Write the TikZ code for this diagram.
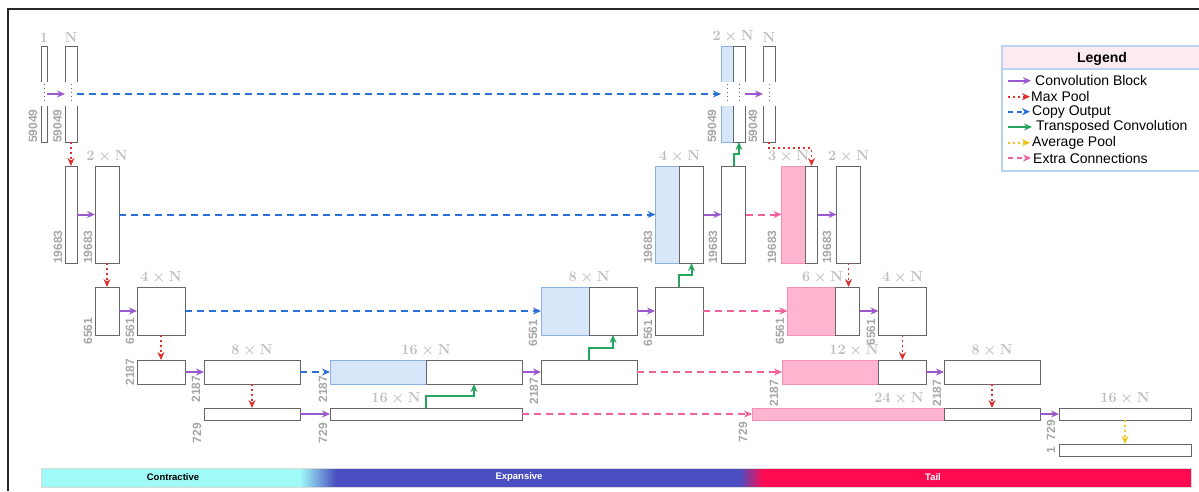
\documentclass[tikz,border=0pt]{standalone}
\usepackage{amsmath}
\usepackage{fontspec}
\newfontfamily\arial{Liberation Sans}
\usetikzlibrary{arrows.meta,positioning}

\definecolor{convc}{HTML}{9B59D0}
\definecolor{poolc}{HTML}{E0302E}
\definecolor{copyc}{HTML}{2B6FD8}
\definecolor{upc}{HTML}{25A55F}
\definecolor{avgc}{HTML}{F2C21B}
\definecolor{extrac}{HTML}{F0609A}
\definecolor{cpfill}{HTML}{D7E6F8}
\definecolor{cpline}{HTML}{8DB0E3}
\definecolor{exfill}{HTML}{FFB5D0}
\definecolor{exline}{HTML}{F590B5}
\definecolor{labgray}{HTML}{BDBDBD}
\definecolor{dimgray}{HTML}{A6A6A6}
\definecolor{contrc}{HTML}{A0FAF8}
\definecolor{expc}{HTML}{4A4EC0}
\definecolor{tailc}{HTML}{FF0A50}
\definecolor{legline}{HTML}{B8D4F4}
\definecolor{leghead}{HTML}{FDE9F0}

\newcommand{\xN}[1]{$#1\times\mathbf{N}$}

\tikzset{
  blk/.style={draw=black!60, line width=1pt, fill=white, inner sep=0pt, outer sep=0pt},
  cpblk/.style={blk, draw=cpline, fill=cpfill},
  exblk/.style={blk, draw=exline, fill=exfill},
  wlab/.style={text=labgray, inner sep=1pt, font=\fontsize{14}{16}\selectfont\boldmath},
  dlab/.style={text=dimgray, inner sep=0pt, rotate=90, font=\arial\bfseries\fontsize{12}{13}\selectfont},
  tip/.style={-{Stealth[length=8pt,width=7pt]}},
  conv/.style={tip, convc, line width=2pt},
  pool/.style={tip, poolc, line width=1.6pt, dash pattern=on 2pt off 3pt},
  copyout/.style={tip, copyc, line width=2pt, dash pattern=on 7pt off 5pt},
  upconv/.style={tip, upc, line width=2pt},
  avgpool/.style={tip, avgc, line width=1.6pt, dash pattern=on 2pt off 3pt},
  extra/.style={tip, extrac, line width=2pt, dash pattern=on 7pt off 5pt},
  gapdot/.style={black!60, line width=0.8pt, dash pattern=on 1pt off 3pt},
  legtxt/.style={anchor=west, inner sep=0pt, font=\arial\fontsize{14}{16}\selectfont},
  bartxt/.style={inner sep=0pt, font=\arial\bfseries\fontsize{9.5}{10}\selectfont}
}

\begin{document}
\begin{tikzpicture}[x=1pt, y=-1pt]
  \useasboundingbox (0,0) rectangle (1199,491);
  % frame
  \draw[line width=1.5pt, black!85] (8,491) -- (8,9) -- (1199,9);

  % row 1
  \node[blk, minimum width=6, minimum height=96] (in1) at (44,94) {};
  \node[blk, minimum width=12, minimum height=96] (n1) at (71,94) {};
  \node[cpblk, minimum width=12, minimum height=96] (c1a) at (727,94) {};
  \node[blk, minimum width=12, minimum height=96] (c1b) at (739,94) {};
  \node[blk, minimum width=12, minimum height=96] (d1) at (769,94) {};
  \foreach \b in {in1,n1,c1a,c1b,d1} {
    \fill[white] ([xshift=-1pt,yshift=-36pt]\b.north west) rectangle ([xshift=1pt,yshift=36pt]\b.south east);
    \draw[gapdot] ([yshift=-38pt]\b.north) -- ([yshift=38pt]\b.south);
  }

  % row 2
  \node[blk, minimum width=12, minimum height=97] (a2) at (71,214.5) {};
  \node[blk, minimum width=24, minimum height=97] (b2) at (107,214.5) {};
  \node[cpblk, minimum width=24, minimum height=97] (c2a) at (667.5,214.5) {};
  \node[blk, minimum width=24, minimum height=97] (c2b) at (691.5,214.5) {};
  \node[blk, minimum width=24, minimum height=97] (d2) at (733.5,214.5) {};
  \node[exblk, minimum width=24, minimum height=97] (e2a) at (793.5,214.5) {};
  \node[blk, minimum width=12, minimum height=97] (e2b) at (811.5,214.5) {};
  \node[blk, minimum width=24, minimum height=97] (f2) at (848.5,214.5) {};

  % row 3
  \node[blk, minimum width=24, minimum height=48] (a3) at (107,311) {};
  \node[blk, minimum width=48, minimum height=48] (b3) at (161,311) {};
  \node[cpblk, minimum width=48, minimum height=48] (c3a) at (565,311) {};
  \node[blk, minimum width=48, minimum height=48] (c3b) at (613,311) {};
  \node[blk, minimum width=48, minimum height=48] (d3) at (679,311) {};
  \node[exblk, minimum width=48, minimum height=48] (e3a) at (811.5,311) {};
  \node[blk, minimum width=24, minimum height=48] (e3b) at (847.5,311) {};
  \node[blk, minimum width=48, minimum height=48] (f3) at (902.5,311) {};

  % row 4
  \node[blk, minimum width=48, minimum height=24] (a4) at (161,372) {};
  \node[blk, minimum width=96, minimum height=24] (b4) at (252,372) {};
  \node[cpblk, minimum width=96, minimum height=24] (c4a) at (378,372) {};
  \node[blk, minimum width=96, minimum height=24] (c4b) at (474,372) {};
  \node[blk, minimum width=96, minimum height=24] (d4) at (589,372) {};
  \node[exblk, minimum width=96, minimum height=24] (e4a) at (830,372) {};
  \node[blk, minimum width=48, minimum height=24] (e4b) at (902,372) {};
  \node[blk, minimum width=96, minimum height=24] (f4) at (992,372) {};

  % row 5
  \node[blk, minimum width=96, minimum height=12] (a5) at (252,414) {};
  \node[blk, minimum width=192, minimum height=12] (b5) at (426,414) {};
  \node[exblk, minimum width=192, minimum height=12] (e5a) at (848,414) {};
  \node[blk, minimum width=96, minimum height=12] (e5b) at (992,414) {};
  \node[blk, minimum width=132, minimum height=12] (f5) at (1125,414) {};
  \node[blk, minimum width=132, minimum height=12] (g5) at (1125,450) {};

  % connectors
  \draw[conv] (in1.east) -- (n1.west);
  \draw[copyout] (n1.east) -- (c1a.west);
  \draw[conv] (c1b.east) -- (d1.west);
  \draw[pool] (n1.south) -- (a2.north);
  \draw[conv] (a2.east) -- (b2.west);
  \draw[copyout] (b2.east) -- (c2a.west);
  \draw[pool] (b2.south) -- (a3.north);
  \draw[conv] (a3.east) -- (b3.west);
  \draw[copyout] (b3.east) -- (c3a.west);
  \draw[pool] (b3.south) -- (a4.north);
  \draw[conv] (a4.east) -- (b4.west);
  \draw[copyout] (b4.east) -- (c4a.west);
  \draw[pool] (b4.south) -- (a5.north);
  \draw[conv] (a5.east) -- (b5.west);
  \draw[upconv] (b5.north) -- ++(0,-12.5) -| (c4b.south);
  \draw[conv] (c4b.east) -- (d4.west);
  \draw[upconv] (d4.north) -- ++(0,-12) -| (c3b.south);
  \draw[conv] (c3b.east) -- (d3.west);
  \draw[upconv] (d3.north) -- ++(0,-12) -| (c2b.south);
  \draw[conv] (c2b.east) -- (d2.west);
  \draw[upconv] (d2.north) -- ++(0,-12) -| (c1b.south);
  \draw[extra] (d2.east) -- (e2a.west);
  \draw[extra] (d3.east) -- (e3a.west);
  \draw[extra] (d4.east) -- (e4a.west);
  \draw[extra] (b5.east) -- (e5a.west);
  \draw[pool] (d1.south) -- ++(0,6) -| (e2b.north);
  \draw[conv] (e2b.east) -- (f2.west);
  \draw[pool] (f2.south) -- (f2.south |- e3b.north);
  \draw[conv] (e3b.east) -- (f3.west);
  \draw[pool] (f3.south) -- (f3.south |- e4b.north);
  \draw[conv] (e4b.east) -- (f4.west);
  \draw[pool] (f4.south) -- (f4.south |- e5b.north);
  \draw[conv] (e5b.east) -- (f5.west);
  \draw[avgpool] (f5.south) -- (g5.north);

  % channel labels
  \node[wlab, above=2pt of in1] (w-in1) {$1$};
  \node[wlab, above=2pt of n1] (w-n1) {$\mathbf{N}$};
  \node[wlab, above=2pt of c1a.north east] (w-c1) {\xN{2}};
  \node[wlab, above=2pt of d1] (w-d1) {$\mathbf{N}$};
  \node[wlab, above=2pt of b2] (w-b2) {\xN{2}};
  \node[wlab, above=2pt of c2a.north east] (w-c2) {\xN{4}};
  \node[wlab, above=2pt of e2a.north, xshift=-5pt] (w-e2) {\xN{3}};
  \node[wlab, above=2pt of f2] (w-f2) {\xN{2}};
  \node[wlab, above=2pt of b3] (w-b3) {\xN{4}};
  \node[wlab, above=2pt of c3a.north east] (w-c3) {\xN{8}};
  \node[wlab, above=2pt of e3a.north, xshift=11pt] (w-e3) {\xN{6}};
  \node[wlab, above=2pt of f3] (w-f3) {\xN{4}};
  \node[wlab, above=2pt of b4] (w-b4) {\xN{8}};
  \node[wlab, above=2pt of c4a.north east] (w-c4) {\xN{16}};
  \node[wlab, above=2pt of e4a.north east, xshift=-24pt] (w-e4) {\xN{12}};
  \node[wlab, above=2pt of f4] (w-f4) {\xN{8}};
  \node[wlab, above=2pt of b5, xshift=-30pt] (w-b5) {\xN{16}};
  \node[wlab, above=2pt of e5a.north east, xshift=-45pt] (w-e5) {\xN{24}};
  \node[wlab, above=2pt of f5] (w-f5) {\xN{16}};

  % size labels
  \node[dlab] (d-in1) at (33,126) {59049};
  \node[dlab] (d-n1) at (57.5,126) {59049};
  \node[dlab] (d-c1) at (712,126) {59049};
  \node[dlab] (d-d1) at (753,126) {59049};
  \node[dlab] (d-a2) at (58,247) {19683};
  \node[dlab] (d-b2) at (88,247) {19683};
  \node[dlab] (d-c2) at (648,247) {19683};
  \node[dlab] (d-d2) at (713,247) {19683};
  \node[dlab] (d-e2) at (772,247) {19683};
  \node[dlab] (d-f2) at (827,247) {19683};
  \node[dlab] (d-a3) at (88,331) {6561};
  \node[dlab] (d-b3) at (130,331) {6561};
  \node[dlab] (d-c3) at (533,333) {6561};
  \node[dlab] (d-d3) at (648,333) {6561};
  \node[dlab] (d-e3) at (780,331) {6561};
  \node[dlab] (d-f3) at (871,332) {6561};
  \node[dlab] (d-a4) at (130,372) {2187};
  \node[dlab] (d-b4) at (196,389) {2187};
  \node[dlab] (d-c4) at (323,389) {2187};
  \node[dlab] (d-d4) at (534,391) {2187};
  \node[dlab] (d-e4) at (774,393) {2187};
  \node[dlab] (d-f4) at (937,393) {2187};
  \node[dlab] (d-a5) at (197,433) {729};
  \node[dlab] (d-b5) at (323,433) {729};
  \node[dlab] (d-e5) at (743,432) {729};
  \node[dlab] (d-f5) at (1051,430) {729};
  \node[dlab] (d-g5) at (1051,450) {1};

  % legend
  \draw[legline, line width=1.5pt, fill=white] (1002,46) rectangle (1215,171);
  \draw[legline, line width=1.5pt, fill=leghead] (1002,46) rectangle (1215,69);
  \node[font=\arial\bfseries\fontsize{14}{16}\selectfont] (leghd) at (1102,59) {Legend};
  \node[legtxt] (lg1) at (1035,80.7) {Convolution Block};
  \node[legtxt] (lg2) at (1031,96.7) {Max Pool};
  \node[legtxt] (lg3) at (1032,111.7) {Copy Output};
  \node[legtxt] (lg4) at (1036,127) {Transposed Convolution};
  \node[legtxt] (lg5) at (1032,142.7) {Average Pool};
  \node[legtxt] (lg6) at (1033,158) {Extra Connections};
  \draw[conv] (1008,80.7) -- ([xshift=-4pt]lg1.west);
  \draw[pool] (1008,96.7) -- ([xshift=-1pt]lg2.west);
  \draw[copyout, dash pattern=on 5pt off 4pt] (1008,111.7) -- ([xshift=-2pt]lg3.west);
  \draw[upconv] (1008,127) -- ([xshift=-4pt]lg4.west);
  \draw[avgpool] (1008,142.7) -- ([xshift=-2pt]lg5.west);
  \draw[extra, dash pattern=on 5pt off 4pt] (1008,158) -- ([xshift=-2pt]lg6.west);

  % stage bar
  \fill[contrc] (41,468) rectangle (300,487);
  \shade[left color=contrc, right color=expc] (300,468) rectangle (336,487);
  \fill[expc] (336,468) rectangle (740,487);
  \shade[left color=expc, right color=tailc] (740,468) rectangle (763,487);
  \fill[tailc] (763,468) rectangle (1191,487);
  \draw[black!15, line width=0.6pt] (41,468) rectangle (1191,487);
  \node[bartxt, text=black] (bar1) at (173,477.5) {Contractive};
  \node[bartxt, text=white] (bar2) at (519,477.5) {Expansive};
  \node[bartxt, text=white] (bar3) at (933,477.5) {Tail};
\end{tikzpicture}
\end{document}
